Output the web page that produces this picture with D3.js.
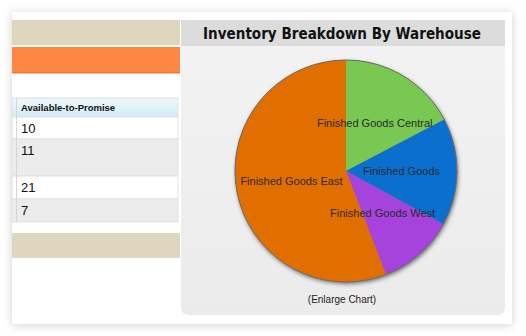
<!DOCTYPE html>
<html>
<head>
<meta charset="utf-8">
<script src="https://cdn.jsdelivr.net/npm/d3@7"></script>
<style>
  body { margin: 0; background: #fff; }
  svg { display: block; }
</style>
</head>
<body>
<div class="canvas"></div>
<script>
// data
const warehouses = ['Finished Goods Central', 'Finished Goods', 'Finished Goods West', 'Finished Goods East'];
const onHand = [31, 28, 20, 100];
const sliceColors = ['#79c852', '#0b6fd0', '#a543dc', '#e16f00'];

const atpHeader = 'Available-to-Promise';
const atpValues = [10, 11, 21, 7];
const atpRowHeights = [22, 37, 23, 23];

const chartTitle = 'Inventory Breakdown By Warehouse';
const enlargeText = '(Enlarge Chart)';

const width = 526, height = 336;

const svg = d3.select('.canvas')
  .append('svg')
  .attr('width', width)
  .attr('height', height);

const defs = svg.append('defs');

// soft shadow for the white card
const cardShadow = defs.append('filter').attr('id', 'cardShadow')
  .attr('x', '-10%').attr('y', '-10%').attr('width', '120%').attr('height', '120%');
cardShadow.append('feDropShadow')
  .attr('dx', 0).attr('dy', 1).attr('stdDeviation', 5)
  .attr('flood-color', '#000').attr('flood-opacity', 0.18);

// pie shadow
const pieShadow = defs.append('filter').attr('id', 'pieShadow')
  .attr('x', '-20%').attr('y', '-20%').attr('width', '140%').attr('height', '140%');
pieShadow.append('feDropShadow')
  .attr('dx', 1).attr('dy', 2).attr('stdDeviation', 2)
  .attr('flood-color', '#000').attr('flood-opacity', 0.55);

const panelGrad = defs.append('linearGradient').attr('id', 'panelGrad')
  .attr('x1', 0).attr('y1', 0).attr('x2', 0).attr('y2', 1);
panelGrad.append('stop').attr('offset', '0%').attr('stop-color', '#f3f3f3');
panelGrad.append('stop').attr('offset', '100%').attr('stop-color', '#ebebeb');

const headGrad = defs.append('linearGradient').attr('id', 'headGrad')
  .attr('x1', 0).attr('y1', 0).attr('x2', 0).attr('y2', 1);
headGrad.append('stop').attr('offset', '0%').attr('stop-color', '#eef8fc');
headGrad.append('stop').attr('offset', '100%').attr('stop-color', '#d2ecf7');

// white card
svg.append('rect')
  .attr('x', 12).attr('y', 12).attr('width', 500).attr('height', 312)
  .attr('fill', '#fff')
  .attr('filter', 'url(#cardShadow)');

// LEFT PANEL ==========================================
const left = svg.append('g');

left.append('rect')
  .attr('x', 12).attr('y', 20).attr('width', 168).attr('height', 25)
  .attr('fill', '#ded6bf');

left.append('rect')
  .attr('x', 12).attr('y', 47).attr('width', 168).attr('height', 26)
  .attr('fill', '#fd8743');
left.append('rect')
  .attr('x', 12).attr('y', 72).attr('width', 168).attr('height', 1.5)
  .attr('fill', '#f57a30');

// table
const tableX = 12, tableW = 166, headY = 98, headH = 19;

left.append('rect')
  .attr('x', tableX).attr('y', headY).attr('width', tableW).attr('height', headH)
  .attr('fill', 'url(#headGrad)')
  .attr('stroke', '#d9e4e8');

left.append('text')
  .attr('x', 21).attr('y', headY + 13)
  .attr('font-family', 'Liberation Sans, Arial, sans-serif')
  .attr('font-size', 9.5)
  .attr('font-weight', 'bold')
  .attr('fill', '#111')
  .text(atpHeader);

const rowTops = atpRowHeights.map((h, i) => headY + headH + d3.sum(atpRowHeights.slice(0, i)));

const rows = left.selectAll('g.row')
  .data(atpValues)
  .enter()
  .append('g')
  .attr('class', 'row')
  .attr('transform', (d, i) => `translate(0, ${rowTops[i]})`);

rows.append('rect')
  .attr('x', tableX).attr('y', 0)
  .attr('width', tableW)
  .attr('height', (d, i) => atpRowHeights[i])
  .attr('fill', (d, i) => i % 2 ? '#ececec' : '#fff')
  .attr('stroke', '#e2e2e2');

rows.append('text')
  .attr('x', 21).attr('y', 15.5)
  .attr('font-family', 'Liberation Sans, Arial, sans-serif')
  .attr('font-size', 13)
  .attr('fill', '#111')
  .text(d => d);

// thin column divider at far left of the table
left.append('line')
  .attr('x1', 16.5).attr('x2', 16.5)
  .attr('y1', headY).attr('y2', headY + headH + d3.sum(atpRowHeights))
  .attr('stroke', '#d6d6d6');

left.append('rect')
  .attr('x', 12).attr('y', 233).attr('width', 168).attr('height', 25)
  .attr('fill', '#ded6bf');

// RIGHT PANEL =========================================
const panel = svg.append('g');
const px = 181, py = 20, pw = 324, ph = 295, pr = 8;

panel.append('path')
  .attr('d', `M${px},${py} H${px + pw} V${py + ph - pr} Q${px + pw},${py + ph} ${px + pw - pr},${py + ph}
              H${px + pr} Q${px},${py + ph} ${px},${py + ph - pr} Z`)
  .attr('fill', 'url(#panelGrad)');

panel.append('rect')
  .attr('x', px).attr('y', py).attr('width', pw).attr('height', 26)
  .attr('fill', '#dcdcdc');

panel.append('text')
  .attr('x', 342).attr('y', 39)
  .attr('text-anchor', 'middle')
  .attr('font-family', 'DejaVu Sans, Verdana, sans-serif')
  .attr('font-size', 15)
  .attr('font-weight', 'bold')
  .attr('fill', '#111')
  .attr('textLength', 278)
  .attr('lengthAdjust', 'spacingAndGlyphs')
  .text(chartTitle);

// PIE =================================================
const cx = 346, cy = 171, radius = 111;

const pie = d3.pie().sort(null).value(d => d);
const arc = d3.arc().innerRadius(0).outerRadius(radius);
const color = d3.scaleOrdinal().domain(warehouses).range(sliceColors);

const slices = pie(onHand).map((s, i) => ({ ...s, name: warehouses[i] }));

const pieGroup = panel.append('g')
  .attr('transform', `translate(${cx}, ${cy})`);

pieGroup.append('circle')
  .attr('r', radius)
  .attr('fill', '#888')
  .attr('filter', 'url(#pieShadow)');

pieGroup.selectAll('path.slice')
  .data(slices)
  .enter()
  .append('path')
  .attr('class', 'slice')
  .attr('d', arc)
  .attr('fill', d => color(d.name));

pieGroup.append('circle')
  .attr('r', radius)
  .attr('fill', 'none')
  .attr('stroke', '#6a6a6a')
  .attr('stroke-width', 1);

pieGroup.selectAll('text.label')
  .data(slices)
  .enter()
  .append('text')
  .attr('class', 'label')
  .attr('transform', d => `translate(${arc.centroid(d)})`)
  .attr('dy', '0.35em')
  .attr('text-anchor', 'middle')
  .attr('font-family', 'Liberation Sans, Arial, sans-serif')
  .attr('font-size', 11)
  .attr('fill', '#2a2a2a')
  .text(d => d.name);

panel.append('text')
  .attr('x', 342).attr('y', 303)
  .attr('text-anchor', 'middle')
  .attr('font-family', 'Liberation Sans, Arial, sans-serif')
  .attr('font-size', 10)
  .attr('fill', '#222')
  .text(enlargeText);
</script>
</body>
</html>
